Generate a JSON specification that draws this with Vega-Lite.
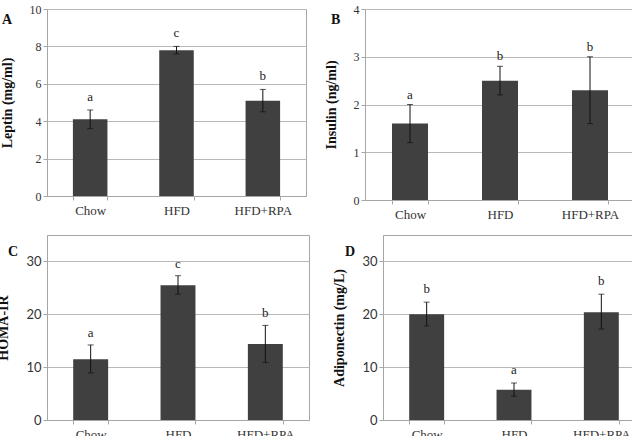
{
  "$schema": "https://vega.github.io/schema/vega-lite/v6.json",
  "padding": {"left": -4, "top": 2, "right": 0, "bottom": 0},
  "background": "white",
  "config": {
    "view": {"stroke": "#a6a6a6", "strokeWidth": 1},
    "axis": {"domainColor": "#a6a6a6", "tickColor": "#a6a6a6", "gridColor": "#b8b8b8", "tickSize": 4, "labelColor": "#333333", "titleColor": "#111111"},
    "title": {"font": "Liberation Serif", "fontWeight": "bold", "fontSize": 14, "anchor": "start", "frame": "group", "baseline": "top", "offset": -24, "color": "#111111"}
  },
  "datasets": {
    "A": [
      {"group": "Chow", "mean": 4.1, "lo": 3.6, "hi": 4.6, "sig": "a"},
      {"group": "HFD", "mean": 7.8, "lo": 7.6, "hi": 8.0, "sig": "c"},
      {"group": "HFD+RPA", "mean": 5.1, "lo": 4.5, "hi": 5.7, "sig": "b"}
    ],
    "B": [
      {"group": "Chow", "mean": 1.6, "lo": 1.2, "hi": 2.0, "sig": "a"},
      {"group": "HFD", "mean": 2.5, "lo": 2.2, "hi": 2.8, "sig": "b"},
      {"group": "HFD+RPA", "mean": 2.3, "lo": 1.6, "hi": 3.0, "sig": "b"}
    ],
    "C": [
      {"group": "Chow", "mean": 11.5, "lo": 8.9, "hi": 14.2, "sig": "a"},
      {"group": "HFD", "mean": 25.5, "lo": 23.8, "hi": 27.3, "sig": "c"},
      {"group": "HFD+RPA", "mean": 14.4, "lo": 10.9, "hi": 17.9, "sig": "b"}
    ],
    "D": [
      {"group": "Chow", "mean": 20.0, "lo": 17.8, "hi": 22.3, "sig": "b"},
      {"group": "HFD", "mean": 5.7, "lo": 4.5, "hi": 7.0, "sig": "a"},
      {"group": "HFD+RPA", "mean": 20.4, "lo": 17.2, "hi": 23.8, "sig": "b"}
    ]
  },
  "vconcat": [
    {
      "hconcat": [
        {
          "title": {"text": "A", "dx": -45},
          "width": 259, "height": 187,
          "data": {"name": "A"},
          "encoding": {
            "x": {"field": "group", "type": "nominal", "sort": null, "title": null,
              "scale": {"paddingInner": 0.6, "paddingOuter": 0.3},
              "axis": {"labelAngle": 0, "tickBand": "extent", "labelFont": "Liberation Serif", "labelFontSize": 13, "labelPadding": 4}},
            "y": {"type": "quantitative", "scale": {"domain": [0, 10], "nice": false}, "title": "Leptin  (mg/ml)",
              "axis": {"values": [0, 2, 4, 6, 8, 10], "labelFont": "Liberation Serif", "labelFontSize": 12, "labelPadding": 2, "titleFont": "Liberation Serif", "titleFontSize": 14, "titlePadding": 15}}
          },
          "layer": [
            {"mark": {"type": "bar", "color": "#404040"}, "encoding": {"y": {"field": "mean"}}},
            {"mark": {"type": "rule", "color": "#111111", "strokeWidth": 1}, "encoding": {"y": {"field": "lo"}, "y2": {"field": "hi"}}},
            {"mark": {"type": "tick", "color": "#111111", "size": 6, "thickness": 1, "orient": "horizontal"}, "encoding": {"y": {"field": "lo"}}},
            {"mark": {"type": "tick", "color": "#111111", "size": 6, "thickness": 1, "orient": "horizontal"}, "encoding": {"y": {"field": "hi"}}},
            {"mark": {"type": "text", "font": "Liberation Serif", "fontSize": 13, "baseline": "alphabetic", "dy": -9, "fill": "#222222"}, "encoding": {"y": {"field": "hi"}, "text": {"field": "sig"}}}
          ]
        },
        {
          "title": {"text": "B", "dx": -34},
          "width": 270, "height": 191,
          "data": {"name": "B"},
          "encoding": {
            "x": {"field": "group", "type": "nominal", "sort": null, "title": null,
              "scale": {"paddingInner": 0.6, "paddingOuter": 0.3},
              "axis": {"labelAngle": 0, "tickBand": "extent", "labelFont": "Liberation Serif", "labelFontSize": 13, "labelPadding": 4}},
            "y": {"type": "quantitative", "scale": {"domain": [0, 4], "nice": false}, "title": "Insulin  (ng/ml)",
              "axis": {"values": [0, 1, 2, 3, 4], "labelFont": "Liberation Serif", "labelFontSize": 12, "labelPadding": 2, "titleFont": "Liberation Serif", "titleFontSize": 14, "titlePadding": 15}}
          },
          "layer": [
            {"mark": {"type": "bar", "color": "#404040"}, "encoding": {"y": {"field": "mean"}}},
            {"mark": {"type": "rule", "color": "#111111", "strokeWidth": 1}, "encoding": {"y": {"field": "lo"}, "y2": {"field": "hi"}}},
            {"mark": {"type": "tick", "color": "#111111", "size": 6, "thickness": 1, "orient": "horizontal"}, "encoding": {"y": {"field": "lo"}}},
            {"mark": {"type": "tick", "color": "#111111", "size": 6, "thickness": 1, "orient": "horizontal"}, "encoding": {"y": {"field": "hi"}}},
            {"mark": {"type": "text", "font": "Liberation Serif", "fontSize": 13, "baseline": "alphabetic", "dy": -6, "fill": "#222222"}, "encoding": {"y": {"field": "hi"}, "text": {"field": "sig"}}}
          ]
        }
      ],
      "spacing": 16
    },
    {
      "hconcat": [
        {
          "title": {"text": "C", "dx": -39},
          "width": 262, "height": 185,
          "data": {"name": "C"},
          "encoding": {
            "x": {"field": "group", "type": "nominal", "sort": null, "title": null,
              "scale": {"paddingInner": 0.6, "paddingOuter": 0.3},
              "axis": {"labelAngle": 0, "tickBand": "extent", "labelFont": "Liberation Serif", "labelFontSize": 13, "labelPadding": 4}},
            "y": {"type": "quantitative", "scale": {"domain": [0, 35], "nice": false}, "title": "HOMA-IR",
              "axis": {"values": [0, 10, 20, 30], "labelFont": "Lato", "labelFontSize": 13, "labelPadding": 2, "titleFont": "Liberation Serif", "titleFontSize": 14, "titlePadding": 15}}
          },
          "layer": [
            {"mark": {"type": "bar", "color": "#404040"}, "encoding": {"y": {"field": "mean"}}},
            {"mark": {"type": "rule", "color": "#111111", "strokeWidth": 1}, "encoding": {"y": {"field": "lo"}, "y2": {"field": "hi"}}},
            {"mark": {"type": "tick", "color": "#111111", "size": 6, "thickness": 1, "orient": "horizontal"}, "encoding": {"y": {"field": "lo"}}},
            {"mark": {"type": "tick", "color": "#111111", "size": 6, "thickness": 1, "orient": "horizontal"}, "encoding": {"y": {"field": "hi"}}},
            {"mark": {"type": "text", "font": "Liberation Serif", "fontSize": 13, "baseline": "alphabetic", "dy": -8, "fill": "#222222"}, "encoding": {"y": {"field": "hi"}, "text": {"field": "sig"}}}
          ]
        },
        {
          "title": {"text": "D", "dx": -38},
          "width": 262, "height": 185,
          "data": {"name": "D"},
          "encoding": {
            "x": {"field": "group", "type": "nominal", "sort": null, "title": null,
              "scale": {"paddingInner": 0.6, "paddingOuter": 0.3},
              "axis": {"labelAngle": 0, "tickBand": "extent", "labelFont": "Liberation Serif", "labelFontSize": 13, "labelPadding": 4}},
            "y": {"type": "quantitative", "scale": {"domain": [0, 35], "nice": false}, "title": "Adiponectin  (mg/L)",
              "axis": {"values": [0, 10, 20, 30], "labelFont": "Lato", "labelFontSize": 13, "labelPadding": 2, "titleFont": "Liberation Serif", "titleFontSize": 14, "titlePadding": 15}}
          },
          "layer": [
            {"mark": {"type": "bar", "color": "#404040"}, "encoding": {"y": {"field": "mean"}}},
            {"mark": {"type": "rule", "color": "#111111", "strokeWidth": 1}, "encoding": {"y": {"field": "lo"}, "y2": {"field": "hi"}}},
            {"mark": {"type": "tick", "color": "#111111", "size": 6, "thickness": 1, "orient": "horizontal"}, "encoding": {"y": {"field": "lo"}}},
            {"mark": {"type": "tick", "color": "#111111", "size": 6, "thickness": 1, "orient": "horizontal"}, "encoding": {"y": {"field": "hi"}}},
            {"mark": {"type": "text", "font": "Liberation Serif", "fontSize": 13, "baseline": "alphabetic", "dy": -9, "fill": "#222222"}, "encoding": {"y": {"field": "hi"}, "text": {"field": "sig"}}}
          ]
        }
      ],
      "spacing": 22
    }
  ],
  "spacing": 12
}
